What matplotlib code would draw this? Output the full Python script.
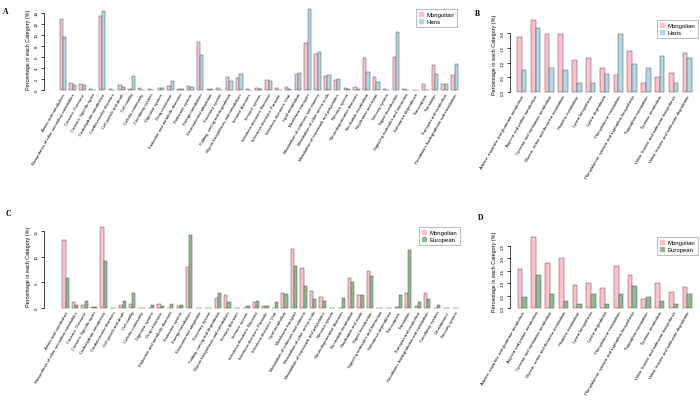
import numpy as np
import matplotlib
matplotlib.use("Agg")
import matplotlib.pyplot as plt
from matplotlib.lines import Line2D

plt.rcParams["font.family"] = ["Liberation Sans", "DejaVu Sans"]

# ── Dados ────────────────────────────────────────────────────────────────────
cats_a = [
    "Amino acid metabolism", "Biosynthesis of other secondary metabolites",
    "Cancers: Overview", "Cancers: Specific types", "Carbohydrate metabolism",
    "Cardiovascular diseases", "Cell growth and death", "Cell motility",
    "Cellular community", "Circulatory system", "Digestive system",
    "Drug resistance", "Endocrine and metabolic diseases", "Endocrine system",
    "Energy metabolism", "Environmental adaptation", "Excretory system",
    "Folding, sorting and degradation", "Glycan biosynthesis and metabolism",
    "Immune diseases", "Immune system", "Infectious diseases: Bacterial",
    "Infectious diseases: Parasitic", "Infectious diseases: Viral",
    "Lipid metabolism", "Membrane transport",
    "Metabolism of cofactors and vitamins", "Metabolism of other amino acids",
    "Metabolism of terpenoids and polyketides", "Nervous system",
    "Neurodegenerative diseases", "Nucleotide metabolism",
    "Replication and repair", "Sensory system", "Signal transduction",
    "Signaling molecules and interaction", "Substance dependence",
    "Transcription", "Translation", "Transport and catabolism",
    "Xenobiotics biodegradation and metabolism",
]
mong_a = [12.9, 1.27, 1.15, 0.25, 13.45, 0.15, 0.9, 0.15, 0.4, 0.15, 0.45,
          0.65, 0.25, 0.8, 8.75, 0.25, 0.35, 2.35, 2.1, 0.1, 0.45, 1.87,
          0.36, 0.48, 3.0, 8.6, 6.5, 2.55, 1.87, 0.42, 0.55, 5.85, 2.4, 0.18,
          5.97, 0.24, 0.06, 1.09, 4.47, 1.15, 2.78]
hans_a = [9.7, 0.9, 0.85, 0.05, 14.3, 0.05, 0.5, 2.6, 0.05, 0.05, 0.3,
          1.7, 0.25, 0.55, 6.3, 0.25, 0.05, 1.7, 2.9, 0.05, 0.1, 1.7,
          0.06, 0.25, 3.1, 14.7, 6.95, 2.7, 2.0, 0.25, 0.25, 3.25, 1.45, 0.06,
          10.5, 0.06, 0.06, 0.06, 2.9, 1.15, 4.65]

cats_c = [
    "Amino acid metabolism", "Biosynthesis of other secondary metabolites",
    "Cancers: Overview", "Cancers: Specific types", "Carbohydrate metabolism",
    "Cardiovascular diseases", "Cell growth and death", "Cell motility",
    "Cellular community", "Digestive system", "Drug resistance",
    "Endocrine and metabolic diseases", "Endocrine system",
    "Energy metabolism", "Environmental adaptation", "Excretory system",
    "Folding, sorting and degradation", "Glycan biosynthesis and metabolism",
    "Immune diseases", "Immune system", "Infectious diseases: Bacterial",
    "Infectious diseases: Parasitic", "Infectious diseases: Viral",
    "Lipid metabolism", "Membrane transport",
    "Metabolism of cofactors and vitamins", "Metabolism of other amino acids",
    "Metabolism of terpenoids and polyketides", "Nervous system",
    "Neurodegenerative diseases", "Nucleotide metabolism",
    "Replication and repair", "Signal transduction",
    "Signaling molecules and interaction", "Substance dependence",
    "Transcription", "Translation", "Transport and catabolism",
    "Xenobiotics biodegradation and metabolism", "Circulatory system",
    "Development", "Sensory system",
]
mong_c = [13.4, 1.23, 0.5, 0.13, 15.8, 0.06, 0.65, 0.78, 0.06, 0.06, 0.78,
          0.06, 0.45, 8.0, 0.06, 0.06, 2.0, 2.5, 0.06, 0.06, 1.23, 0.32,
          0.06, 2.9, 11.55, 7.85, 3.4, 2.15, 0.06, 0.06, 5.8, 2.6, 7.27,
          0.06, 0.0, 0.26, 2.9, 0.45, 3.0, 0.0, 0.0, 0.0]
euro_c = [5.8, 0.5, 1.36, 0.26, 9.15, 0.06, 1.36, 2.86, 0.06, 0.5, 0.45,
          0.84, 0.65, 14.3, 0.06, 0.06, 2.86, 1.17, 0.0, 0.45, 1.4, 0.45,
          1.1, 2.7, 8.25, 4.35, 1.7, 1.43, 0.06, 2.0, 5.06, 2.47, 6.3,
          0.0, 0.06, 2.6, 11.4, 1.23, 1.8, 0.5, 0.06, 0.06]

cats_b = [
    "Alanine, aspartate and glutamate metabolism",
    "Arginine and proline metabolism", "Cysteine and methionine metabolism",
    "Glycine, serine and threonine metabolism", "Histidine metabolism",
    "Lysine biosynthesis", "Lysine degradation", "Phenylalanine metabolism",
    "Phenylalanine, tyrosine and tryptophan biosynthesis",
    "Tryptophan metabolism", "Tyrosine metabolism",
    "Valine, leucine and isoleucine biosynthesis",
    "Valine, leucine and isoleucine degradation",
]
mong_b = [1.85, 2.45, 1.97, 1.97, 1.1, 1.15, 0.8, 0.56, 1.38, 0.29, 0.5, 0.63, 1.33]
hans_b = [0.73, 2.17, 0.81, 0.73, 0.3, 0.3, 0.6, 1.97, 0.94, 0.82, 1.23, 0.3, 1.14]
mong_d = [1.56, 2.85, 1.79, 1.99, 0.94, 0.99, 0.79, 1.68, 1.31, 0.36, 0.99, 0.63, 0.84]
euro_d = [0.44, 1.31, 0.57, 0.28, 0.15, 0.57, 0.15, 0.57, 0.87, 0.44, 0.28, 0.15, 0.57]

PINK = "#FFC0CB"
BLUE = "#ADD8E6"
GREEN = "#8FBC8F"
EDGE = "#555555"

W, H = 700, 406
fig = plt.figure(figsize=(W / 100, H / 100), dpi=100)


def painel(left, right, y0, c0, step, n, ymax, ppu, ticks):
    """Cria eixo posicionado em pixels (estilo barplot do R)."""
    height = ymax * ppu
    ax = fig.add_axes([left / W, (H - y0) / H, (right - left) / W, height / H])
    ax.set_xlim((left - c0) / step, (right - c0) / step)
    ax.set_ylim(0, ymax)
    for s in ("top", "right", "bottom"):
        ax.spines[s].set_visible(False)
    ax.spines["left"].set_bounds(ticks[0], ticks[-1])
    ax.spines["left"].set_linewidth(0.5)
    ax.set_yticks(ticks)
    ax.tick_params(axis="y", direction="out", length=2, width=0.5,
                   labelsize=3.2, pad=1.5)
    for lb in ax.get_yticklabels():
        lb.set_rotation(90)
        lb.set_va("center")
    ax.tick_params(axis="x", length=0, pad=1.5)
    ax.set_ylabel("Percentage in each Category (%)", fontsize=3.9, labelpad=3)
    return ax


def barras(ax, cats, v1, v2, c2, lab1, lab2, leg_xy, wbar=0.34):
    x = np.arange(len(cats))
    ax.bar(x - wbar / 2, v1, width=wbar, color=PINK, edgecolor=EDGE,
           linewidth=0.35, clip_on=False)
    ax.bar(x + wbar / 2, v2, width=wbar, color=c2, edgecolor=EDGE,
           linewidth=0.35, clip_on=False)
    ax.set_xticks(x)
    ax.set_xticklabels(cats, rotation=60, ha="right", rotation_mode="anchor",
                       fontsize=3.1)
    hs = [Line2D([], [], marker="s", ls="", color=PINK, markersize=2.6),
          Line2D([], [], marker="s", ls="", color=c2, markersize=2.6)]
    leg = fig.legend(hs, [lab1, lab2], loc="upper right",
                     bbox_to_anchor=(leg_xy[0] / W, 1 - leg_xy[1] / H),
                     fontsize=4.3, frameon=True, fancybox=False,
                     handlelength=0.8, handletextpad=0.4, borderpad=0.5,
                     labelspacing=0.25, borderaxespad=0)
    leg.get_frame().set_edgecolor("#888888")
    leg.get_frame().set_linewidth(0.5)


# ── Painéis ──────────────────────────────────────────────────────────────────
axA = painel(44, 462, 91, 63, 9.79, len(cats_a), 15, 5.5, np.arange(0, 15, 2))
barras(axA, cats_a, mong_a, hans_a, BLUE, "Mongolian", "Hans", (457, 10))

axB = painel(510, 698, 93, 521.7, 13.8, len(cats_b), 2.6, 29.5,
             np.arange(0, 2.01, 0.5))
axB.set_yticklabels(["0.0", "0.5", "1.0", "1.5", "2.0"])
barras(axB, cats_b, mong_b, hans_b, BLUE, "Mongolian", "Hans", (698, 21))

axC = painel(44, 462, 309, 65.5, 9.52, len(cats_c), 16.5, 5.11, [0, 5, 10, 15])
barras(axC, cats_c, mong_c, euro_c, GREEN, "Mongolian", "European", (460, 228))

axD = painel(510, 698, 309, 522.3, 13.75, len(cats_b), 3.0, 24.9,
             np.arange(0, 2.51, 0.5))
axD.set_yticklabels(["0.0", "0.5", "1.0", "1.5", "2.0", "2.5"])
barras(axD, cats_b, mong_d, euro_d, GREEN, "Mongolian", "European", (698, 238))

for lt, (px, py) in zip("ABCD", [(3, 14), (475, 16), (6, 216), (478, 220)]):
    fig.text(px / W, 1 - py / H, lt, fontsize=5.5, fontweight="bold",
             family="Liberation Serif")

fig.savefig("out.png", dpi=100)
